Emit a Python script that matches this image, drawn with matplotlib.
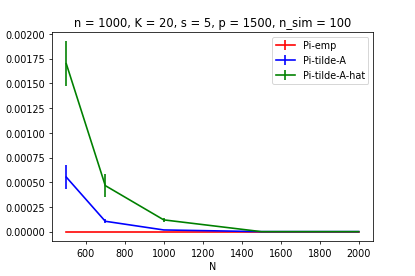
import matplotlib
matplotlib.use("Agg")
import matplotlib.pyplot as plt

N = [500, 700, 1000, 1500, 2000]
pi_emp = [0.0, 0.0, 0.0, 0.0, 0.0]
pi_emp_err = [0.0, 0.0, 0.0, 0.0, 0.0]
pi_tilde_A = [0.000552, 0.000105, 0.000017, 0.0, 0.0]
pi_tilde_A_err = [0.000122, 0.00002, 0.000004, 0.0, 0.0]
pi_tilde_A_hat = [0.00170, 0.000466, 0.000119, 0.0, 0.0]
pi_tilde_A_hat_err = [0.000225, 0.000115, 0.00002, 0.0, 0.0]

fig, ax = plt.subplots(figsize=(6, 4), dpi=415/6)
fig.subplots_adjust(left=0.1245, right=0.8995, top=0.882, bottom=0.126)
ax.errorbar(N, pi_emp, yerr=pi_emp_err, color='red', lw=1.7, label='Pi-emp')
ax.errorbar(N, pi_tilde_A, yerr=pi_tilde_A_err, color='blue', lw=1.7, label='Pi-tilde-A')
ax.errorbar(N, pi_tilde_A_hat, yerr=pi_tilde_A_hat_err, color='green', lw=1.7, label='Pi-tilde-A-hat')
ax.set_xlabel('N')
ax.set_title('n = 1000, K = 20, s = 5, p = 1500, n_sim = 100')
ax.legend(loc='upper right')
fig.savefig('out.png')
